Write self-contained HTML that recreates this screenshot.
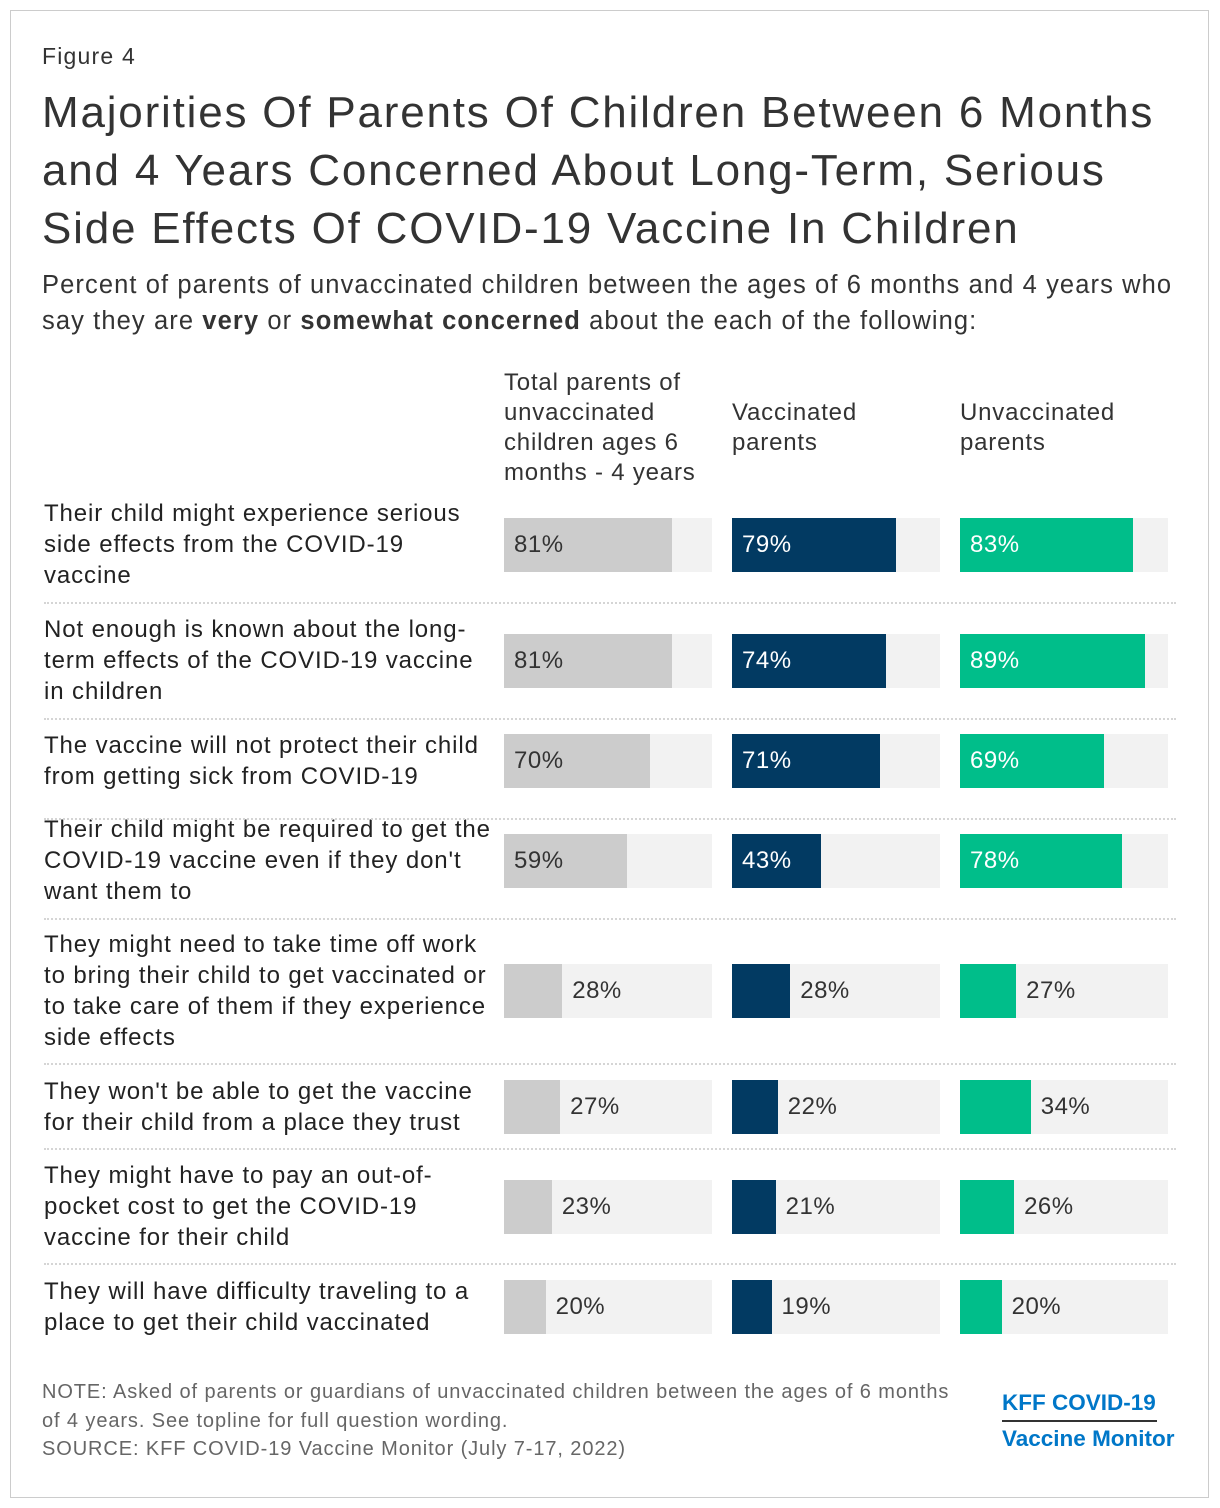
<!DOCTYPE html>
<html><head><meta charset="utf-8"><style>
body{margin:0;width:1220px;height:1508px;background:#fff;font-family:"Liberation Sans",Arial,sans-serif;position:relative;overflow:hidden}
.abs{position:absolute}
#frame{left:10px;top:10px;width:1197px;height:1486px;border:1px solid #ccc}
.lbl{position:absolute;left:44px;width:470px;font-size:24px;line-height:31px;color:#222;white-space:pre-line;letter-spacing:0.9px}
.hdr{position:absolute;font-size:24px;line-height:30px;color:#333;letter-spacing:0.8px}
.sep{position:absolute;left:44px;width:1132px;border-top:2px dotted #d5d5d5;height:0}
.track{position:absolute;background:#f2f2f2;height:54px;width:208px}
.bar{position:absolute;height:54px}
.val{position:absolute;font-size:24px;line-height:54px;letter-spacing:0.5px}
</style></head><body>
<div id="frame" class="abs"></div>
<div class="abs" style="left:42px;top:43px;font-size:23px;color:#333;letter-spacing:1.2px">Figure 4</div>
<div class="abs" style="left:42px;top:84px;width:1170px;font-size:44px;line-height:58px;color:#333;letter-spacing:1.8px;white-space:nowrap">Majorities Of Parents Of Children Between 6 Months<br>and 4 Years Concerned About Long-Term, Serious<br>Side Effects Of COVID-19 Vaccine In Children</div>
<div class="abs" style="left:42px;top:267px;width:1175px;font-size:25.5px;line-height:36px;color:#333;letter-spacing:1.1px;white-space:nowrap">Percent of parents of unvaccinated children between the ages of 6 months and 4 years who<br>say they are <b>very</b> or <b>somewhat concerned</b> about the each of the following:</div>
<div class="hdr" style="left:504px;top:368px;width:220px">Total parents of<br>unvaccinated<br>children ages 6<br>months - 4 years</div>
<div class="hdr" style="left:732px;top:398px">Vaccinated<br>parents</div>
<div class="hdr" style="left:960px;top:398px">Unvaccinated<br>parents</div>
<div id="chart"></div>
<div class="abs" style="left:42px;top:1378px;width:960px;font-size:20px;line-height:28.5px;color:#666;letter-spacing:0.9px;white-space:nowrap">NOTE: Asked of parents or guardians of unvaccinated children between the ages of 6 months<br>of 4 years. See topline for full question wording.<br>SOURCE: KFF COVID-19 Vaccine Monitor (July 7-17, 2022)</div>
<div class="abs" style="left:1002px;top:1386px;color:#0077c8;font-weight:bold;font-size:22.5px;line-height:34px">
<div style="border-bottom:2px solid #333;width:155px">KFF COVID-19</div><div>Vaccine Monitor</div></div>
<script>
const categories=["Their child might experience serious\nside effects from the COVID-19\nvaccine","Not enough is known about the long-\nterm effects of the COVID-19 vaccine\nin children","The vaccine will not protect their child\nfrom getting sick from COVID-19","Their child might be required to get the\nCOVID-19 vaccine even if they don't\nwant them to","They might need to take time off work\nto bring their child to get vaccinated or\nto take care of them if they experience\nside effects","They won't be able to get the vaccine\nfor their child from a place they trust","They might have to pay an out-of-\npocket cost to get the COVID-19\nvaccine for their child","They will have difficulty traveling to a\nplace to get their child vaccinated"];
const totalValues=[81,81,70,59,28,27,23,20];
const vaccinatedValues=[79,74,71,43,28,22,21,19];
const unvaccinatedValues=[83,89,69,78,27,34,26,20];
const rowTops=[518,634,734,834,964,1080,1180,1280];
const labelTops=[498,614,730,814,929,1076,1160,1276];
const sepTops=[602,718,818,918,1063,1148,1263];
const cols=[{x:504,c:"#cccccc",t:"#333",s:totalValues,n:"total"},{x:732,c:"#023a62",t:"#fff",s:vaccinatedValues,n:"vaccinated"},{x:960,c:"#00be8a",t:"#fff",s:unvaccinatedValues,n:"unvaccinated"}];
const W=208;const sx=v=>v/100*W;
const root=document.getElementById('chart');
function mk(cls,st,txt){const d=document.createElement('div');d.className=cls;Object.assign(d.style,st);if(txt!=null)d.textContent=txt;root.appendChild(d);return d;}
categories.forEach((cat,i)=>{
 const l=mk('lbl',{top:labelTops[i]+'px'},cat);
 
 
 cols.forEach(col=>{
  const v=col.s[i];
  const tr=mk('track',{left:col.x+'px',top:rowTops[i]+'px'});
  
  
  const b=mk('bar',{left:col.x+'px',top:rowTops[i]+'px',width:sx(v)+'px',background:col.c});
  
  
  const inside=v>=40;
  const t=mk('val',{top:rowTops[i]+'px',left:(inside?col.x+10:col.x+sx(v)+10)+'px',color:inside?col.t:'#333'},v+'%');
  
  
 });
});
sepTops.forEach(y=>{const s=mk('sep',{top:y+'px'});
 
 });
</script>
</body></html>
